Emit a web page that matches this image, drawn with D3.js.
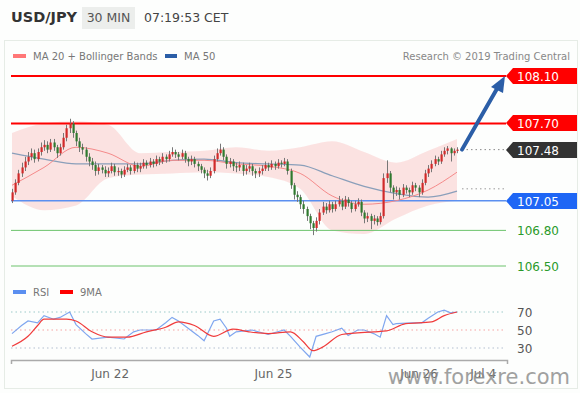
<!DOCTYPE html>
<html>
<head>
<meta charset="utf-8">
<script src="https://cdn.jsdelivr.net/npm/d3@7"></script>
<style>
  body { margin: 0; background: #fff; }
  svg { display: block; font-family: "DejaVu Sans", sans-serif; }
</style>
</head>
<body>
<div id="chart"></div>
<script>
// candles: [open, high, low, close], 30 min bars
const candles = [
  [107.05,107.15,107.03,107.12],[107.12,107.23,107.10,107.20],[107.20,107.31,107.18,107.28],[107.28,107.37,107.25,107.33],[107.33,107.42,107.30,107.38],
  [107.38,107.46,107.35,107.42],[107.42,107.49,107.39,107.45],[107.45,107.48,107.37,107.40],[107.40,107.49,107.38,107.46],[107.46,107.54,107.43,107.50],
  [107.50,107.56,107.47,107.52],[107.52,107.55,107.45,107.48],[107.48,107.57,107.46,107.54],[107.54,107.57,107.47,107.50],[107.50,107.52,107.41,107.45],
  [107.45,107.53,107.43,107.50],[107.50,107.62,107.48,107.58],[107.58,107.69,107.55,107.66],[107.66,107.74,107.62,107.70],[107.70,107.72,107.58,107.62],
  [107.62,107.64,107.51,107.55],[107.55,107.58,107.46,107.50],[107.50,107.53,107.44,107.48],[107.48,107.50,107.38,107.42],[107.42,107.45,107.34,107.38],
  [107.38,107.41,107.31,107.35],[107.35,107.38,107.26,107.30],[107.30,107.36,107.27,107.33],[107.33,107.35,107.28,107.31],[107.31,107.34,107.25,107.28],
  [107.28,107.33,107.25,107.30],[107.30,107.37,107.28,107.34],[107.34,107.36,107.26,107.29],[107.29,107.33,107.26,107.30],[107.30,107.32,107.24,107.27],
  [107.27,107.34,107.25,107.31],[107.31,107.36,107.29,107.33],[107.33,107.35,107.27,107.30],[107.30,107.38,107.28,107.35],[107.35,107.37,107.29,107.32],
  [107.32,107.37,107.29,107.34],[107.34,107.40,107.32,107.37],[107.37,107.39,107.32,107.35],[107.35,107.41,107.33,107.38],[107.38,107.40,107.33,107.36],
  [107.36,107.43,107.34,107.40],[107.40,107.42,107.35,107.38],[107.38,107.45,107.36,107.42],[107.42,107.44,107.37,107.40],[107.40,107.47,107.38,107.44],
  [107.44,107.50,107.42,107.46],[107.46,107.48,107.41,107.44],[107.44,107.46,107.39,107.42],[107.42,107.48,107.40,107.45],[107.45,107.47,107.37,107.40],
  [107.40,107.42,107.34,107.38],[107.38,107.43,107.35,107.40],[107.40,107.42,107.33,107.36],[107.36,107.38,107.30,107.34],[107.34,107.36,107.28,107.31],
  [107.31,107.33,107.24,107.28],[107.28,107.31,107.22,107.26],[107.26,107.33,107.24,107.30],[107.30,107.43,107.28,107.40],[107.40,107.49,107.38,107.45],
  [107.45,107.53,107.43,107.48],[107.48,107.50,107.39,107.42],[107.42,107.44,107.32,107.36],[107.36,107.41,107.33,107.38],[107.38,107.40,107.30,107.34],
  [107.34,107.37,107.29,107.33],[107.33,107.38,107.30,107.35],[107.35,107.37,107.26,107.30],[107.30,107.35,107.27,107.32],[107.32,107.37,107.29,107.34],
  [107.34,107.36,107.26,107.30],[107.30,107.32,107.24,107.28],[107.28,107.33,107.25,107.30],[107.30,107.35,107.27,107.32],[107.32,107.38,107.30,107.35],
  [107.35,107.37,107.30,107.33],[107.33,107.39,107.31,107.36],[107.36,107.38,107.31,107.34],[107.34,107.40,107.32,107.37],[107.37,107.39,107.33,107.36],
  [107.36,107.41,107.34,107.38],[107.38,107.40,107.27,107.30],[107.30,107.32,107.15,107.18],[107.18,107.20,107.06,107.10],[107.10,107.13,107.04,107.08],
  [107.08,107.10,106.98,107.02],[107.02,107.05,106.94,106.98],[106.98,107.00,106.88,106.92],[106.92,106.94,106.81,106.86],[106.86,106.88,106.76,106.82],
  [106.82,106.91,106.79,106.88],[106.88,106.98,106.85,106.95],[106.95,107.04,106.93,107.00],[107.00,107.03,106.94,106.97],[106.97,107.05,106.95,107.02],
  [107.02,107.04,106.95,106.98],[106.98,107.05,106.96,107.02],[107.02,107.09,107.00,107.05],[107.05,107.07,106.97,107.00],[107.00,107.09,106.98,107.06],
  [107.06,107.08,107.00,107.03],[107.03,107.05,106.95,106.98],[106.98,107.05,106.96,107.02],[107.02,107.07,107.00,107.04],[107.04,107.06,106.92,106.95],
  [106.95,106.97,106.86,106.90],[106.90,106.95,106.87,106.92],[106.92,106.94,106.81,106.88],[106.88,106.93,106.85,106.90],[106.90,106.92,106.84,106.87],
  [106.87,106.95,106.85,106.92],[106.92,107.28,106.90,107.24],[107.24,107.39,107.20,107.28],[107.28,107.30,107.12,107.16],[107.16,107.18,107.06,107.12],
  [107.12,107.17,107.09,107.14],[107.14,107.16,107.06,107.10],[107.10,107.19,107.08,107.16],[107.16,107.18,107.11,107.14],[107.14,107.16,107.08,107.12],
  [107.12,107.21,107.10,107.18],[107.18,107.20,107.13,107.16],[107.16,107.18,107.08,107.12],[107.12,107.23,107.10,107.20],[107.20,107.31,107.18,107.28],
  [107.28,107.35,107.25,107.32],[107.32,107.39,107.29,107.36],[107.36,107.43,107.34,107.40],[107.40,107.42,107.35,107.38],[107.38,107.47,107.36,107.44],
  [107.44,107.50,107.42,107.47],[107.47,107.51,107.44,107.49],[107.49,107.50,107.38,107.45],[107.45,107.49,107.43,107.47],[107.47,107.50,107.45,107.48]
];

// indicator lines, read every 10 bars
const indIdx = [0, 10, 20, 30, 40, 50, 60, 70, 80, 90, 100, 110, 120, 130, 139];
const ma20  = [107.18, 107.33, 107.50, 107.45, 107.34, 107.39, 107.39, 107.36, 107.34, 107.28, 107.09, 107.02, 107.05, 107.14, 107.29];
const ma50  = [107.45, 107.40, 107.36, 107.36, 107.36, 107.39, 107.40, 107.37, 107.36, 107.35, 107.26, 107.17, 107.11, 107.08, 107.13];
const bbUp  = [107.62, 107.70, 107.72, 107.69, 107.45, 107.46, 107.47, 107.50, 107.47, 107.50, 107.55, 107.46, 107.37, 107.47, 107.57];
const bbLow = [107.09, 106.97, 107.01, 107.24, 107.27, 107.28, 107.29, 107.28, 107.25, 107.15, 106.80, 106.77, 106.90, 107.01, 107.05];

// RSI and its 9MA: [bar index, value]
const rsi = [[0,46],[3,55],[5,60],[8,58],[10,66],[13,62],[15,64],[18,70],[20,56],[23,46],[25,40],[30,42],[35,40],[38,48],[40,50],
  [45,50],[48,58],[50,64],[52,60],[55,52],[58,44],[60,38],[63,60],[65,62],[67,52],[68,43],[70,48],[75,50],[80,45],[85,50],[87,43],
  [90,31],[93,20],[95,43],[98,46],[100,48],[103,52],[105,44],[108,50],[110,50],[113,46],[115,42],[117,66],[119,56],[120,57],
  [125,58],[128,58],[130,63],[133,70],[135,72],[137,69],[139,70]];
const rsiMa = [[0,32],[5,43],[8,55],[10,62],[17,62],[20,60],[25,48],[30,42],[36,42],[42,48],[48,53],[52,59],[57,55],[63,43],
  [69,51],[74,48],[80,46],[87,48],[91,37],[94,27],[97,31],[103,45],[113,48],[117,49],[123,57],[131,59],[135,66],[139,70]];

// levels
const levels = [
  { value: 108.10, label: "108.10", kind: "box", color: "#ff0000" },
  { value: 107.70, label: "107.70", kind: "box", color: "#ff0000" },
  { value: 107.48, label: "107.48", kind: "box", color: "#333333" },
  { value: 107.05, label: "107.05", kind: "box", color: "#1e66f5" },
  { value: 106.80, label: "106.80", kind: "text", color: "#2a9a2a" },
  { value: 106.50, label: "106.50", kind: "text", color: "#2a9a2a" }
];
const target = 108.10;
const lastMa50 = 107.15;

const dateTicks = [30.5, 81.5, 127, 147];
const dateLabels = ["Jun 22", "Jun 25", "Jun 26", "Jul 4"];
const rsiTicks = [70, 50, 30];

const W = 580, H = 393;
const svg = d3.select("#chart").append("svg").attr("width", W).attr("height", H);

svg.append("rect").attr("width", W).attr("height", H).attr("fill", "#fdfefd");
svg.append("rect").attr("x", 4.5).attr("y", 40.5).attr("width", 573).attr("height", 348)
  .attr("fill", "none").attr("stroke", "#e6ece6");

const x = d3.scaleLinear().domain([0, 139]).range([12, 457]);
const y = d3.scaleLinear().domain([106.5, 108.1]).range([266, 76]);
const yr = d3.scaleLinear().domain([30, 70]).range([348, 312]);

// header
svg.append("text").attr("x", 11).attr("y", 22).attr("font-size", 14.5).attr("font-weight", "bold")
  .attr("fill", "#333").text("USD/JPY");
svg.append("rect").attr("x", 82).attr("y", 7).attr("width", 53).attr("height", 22).attr("fill", "#eceeec");
svg.append("text").attr("x", 108.5).attr("y", 22).attr("text-anchor", "middle").attr("font-size", 12.5)
  .attr("fill", "#555").text("30 MIN");
svg.append("text").attr("x", 144).attr("y", 22).attr("font-size", 12.5).attr("fill", "#444").text("07:19:53 CET");

// legend
svg.append("rect").attr("x", 13).attr("y", 54).attr("width", 13).attr("height", 4).attr("fill", "#f77");
svg.append("text").attr("x", 33).attr("y", 60).attr("font-size", 10).attr("fill", "#777").text("MA 20 + Bollinger Bands");
svg.append("rect").attr("x", 165).attr("y", 54).attr("width", 12).attr("height", 4).attr("fill", "#2b5ea7");
svg.append("text").attr("x", 184).attr("y", 60).attr("font-size", 10).attr("fill", "#777").text("MA 50");
svg.append("text").attr("x", 570).attr("y", 60).attr("text-anchor", "end").attr("font-size", 10)
  .attr("fill", "#888").text("Research \u00a9 2019 Trading Central");

// bollinger band
const band = indIdx.map((d, i) => ({ i: d, up: bbUp[i], lo: bbLow[i], m20: ma20[i], m50: ma50[i] }));
svg.append("path").datum(band)
  .attr("fill", "#fbd3d3").attr("opacity", 0.65)
  .attr("d", d3.area().curve(d3.curveMonotoneX).x(d => x(d.i)).y0(d => y(d.lo)).y1(d => y(d.up)));

// level lines
const lineEnd = 506;
levels.forEach(l => {
  const yy = y(l.value);
  if (l.kind === "box" && l.color === "#333333") {
    svg.append("line").attr("x1", 462).attr("x2", lineEnd).attr("y1", yy).attr("y2", yy)
      .attr("stroke", "#888").attr("stroke-dasharray", "1.5,3");
  } else {
    const col = l.kind === "text" ? "#6cc36c" : (l.color === "#1e66f5" ? "#5b8ff0" : l.color);
    svg.append("line").attr("x1", 11).attr("x2", lineEnd).attr("y1", yy).attr("y2", yy)
      .attr("stroke", col).attr("stroke-width", l.kind === "text" ? 1 : (l.color === "#ff0000" ? 2 : 1.6));
  }
});
svg.append("line").attr("x1", 462).attr("x2", lineEnd).attr("y1", y(lastMa50)).attr("y2", y(lastMa50))
  .attr("stroke", "#999").attr("stroke-dasharray", "1.5,3");

// moving averages
svg.append("path").datum(band).attr("fill", "none").attr("stroke", "#8a9fba").attr("stroke-width", 1.3)
  .attr("d", d3.line().curve(d3.curveMonotoneX).x(d => x(d.i)).y(d => y(d.m50)));
svg.append("path").datum(band).attr("fill", "none").attr("stroke", "#f58a8a").attr("stroke-width", 1)
  .attr("d", d3.line().curve(d3.curveMonotoneX).x(d => x(d.i)).y(d => y(d.m20)));

// candles
const cg = svg.append("g");
candles.forEach((c, i) => {
  const [o, h, l, cl] = c;
  const cx = Math.round(x(i)) + 0.5;
  cg.append("line").attr("x1", cx).attr("x2", cx).attr("y1", y(h)).attr("y2", y(l))
    .attr("stroke", "#777").attr("stroke-width", 1);
  const top = y(Math.max(o, cl)), bot = y(Math.min(o, cl));
  cg.append("rect").attr("x", cx - 1).attr("width", 2.2).attr("y", top).attr("height", Math.max(1, bot - top))
    .attr("fill", cl >= o ? "#d12a2a" : "#2f7a2f");
});

// arrow to target
const last = candles.length - 1;
svg.append("line").attr("x1", x(last) + 5).attr("y1", y(candles[last][3]))
  .attr("x2", 498).attr("y2", y(target) + 11)
  .attr("stroke", "#2b5ea7").attr("stroke-width", 4).attr("stroke-linecap", "round");
svg.append("path").attr("fill", "#2b5ea7")
  .attr("d", `M505,${y(target) + 0} L491,${y(target) + 11} L503,${y(target) + 17} Z`);

// level labels
levels.forEach(l => {
  const yy = Math.round(y(l.value));
  if (l.kind === "box") {
    svg.append("path").attr("fill", l.color)
      .attr("d", `M506,${yy} L513,${yy - 8} L577,${yy - 8} L577,${yy + 8} L513,${yy + 8} Z`);
    svg.append("text").attr("x", 517).attr("y", yy + 4.5).attr("font-size", 12).attr("fill", "#fff").text(l.label);
  } else {
    svg.append("text").attr("x", 517).attr("y", yy + 4.5).attr("font-size", 12).attr("fill", l.color).text(l.label);
  }
});

// RSI panel
svg.append("rect").attr("x", 13).attr("y", 290).attr("width", 13).attr("height", 4).attr("fill", "#5b8ff0");
svg.append("text").attr("x", 33).attr("y", 296).attr("font-size", 10).attr("fill", "#777").text("RSI");
svg.append("rect").attr("x", 60).attr("y", 290).attr("width", 13).attr("height", 4).attr("fill", "#f00");
svg.append("text").attr("x", 80).attr("y", 296).attr("font-size", 10).attr("fill", "#777").text("9MA");

const gridCol = { 70: "#9cc9c9", 50: "#f5a3a3", 30: "#b3bfd0" };
rsiTicks.forEach(t => {
  svg.append("line").attr("x1", 11).attr("x2", 505).attr("y1", yr(t)).attr("y2", yr(t))
    .attr("stroke", gridCol[t]).attr("stroke-dasharray", "1.5,3");
  svg.append("text").attr("x", 517).attr("y", yr(t) + 4.5).attr("font-size", 12).attr("fill", "#555").text(t);
});

svg.append("path").datum(rsi).attr("fill", "none").attr("stroke", "#7fa6ef").attr("stroke-width", 1.2)
  .attr("d", d3.line().x(d => x(d[0])).y(d => yr(d[1])));
svg.append("path").datum(rsiMa).attr("fill", "none").attr("stroke", "#f03c3c").attr("stroke-width", 1.2)
  .attr("d", d3.line().curve(d3.curveMonotoneX).x(d => x(d[0])).y(d => yr(d[1])));

// time axis
const xa = x.copy().domain([x.invert(11), x.invert(507)]).range([11, 507]);
const axis = svg.append("g").attr("transform", "translate(0,360)")
  .call(d3.axisBottom(xa).tickValues(dateTicks).tickFormat((d, i) => dateLabels[i])
    .tickSizeInner(0).tickSizeOuter(4).tickPadding(9));
axis.select(".domain").attr("stroke", "#aaa").attr("stroke-width", 1.5);
axis.selectAll("text").attr("font-size", 12).attr("fill", "#666").attr("font-family", "DejaVu Sans");

// watermark
svg.append("text").attr("x", 570).attr("y", 384).attr("text-anchor", "end").attr("font-size", 21)
  .attr("fill", "#8a8a8a").attr("opacity", 0.8).text("www.forexre.com");
</script>
</body>
</html>
